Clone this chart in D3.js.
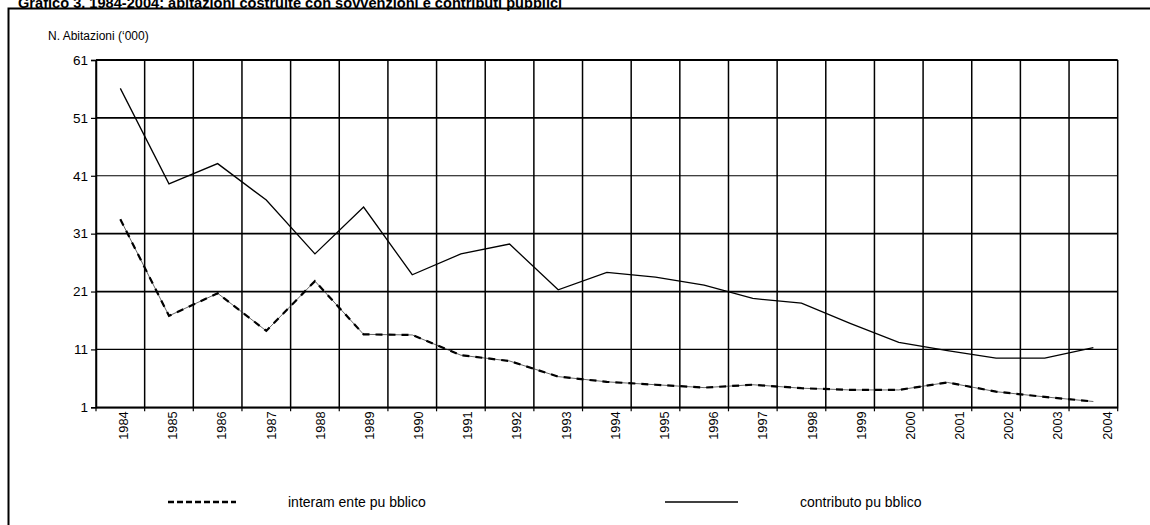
<!DOCTYPE html>
<html>
<head>
<meta charset="utf-8">
<script src="https://cdn.jsdelivr.net/npm/d3@7"></script>
<style>
  html, body { margin: 0; padding: 0; background: #fff; }
  svg { display: block; font-family: "Liberation Sans", Arial, sans-serif; }
</style>
</head>
<body>
<svg id="chart" width="1150" height="525"></svg>
<script>
// Dwellings built with public funding, thousands per year
const years = ["1984","1985","1986","1987","1988","1989","1990","1991","1992","1993",
               "1994","1995","1996","1997","1998","1999","2000","2001","2002","2003","2004"];
const interamentePubblico = [33.5, 16.8, 20.7, 14.2, 22.8, 13.6, 13.5, 10.0, 9.0, 6.3,
                             5.4, 4.9, 4.4, 4.9, 4.3, 4.0, 4.0, 5.3, 3.7, 2.8, 2.0];
const contributoPubblico = [56.1, 39.6, 43.1, 36.8, 27.5, 35.6, 23.9, 27.5, 29.2, 21.3,
                            24.3, 23.5, 22.1, 19.8, 19.0, 15.5, 12.2, 10.8, 9.5, 9.5, 11.3];
const yTicks = [1, 11, 21, 31, 41, 51, 61];
const seriesNames = ["interam ente pu bblico", "contributo pu bblico"];
const titleText = "Grafico 3. 1984-2004: abitazioni costruite con sovvenzioni e contributi pubblici";
const yTitle = "N. Abitazioni (\u2018000)";

const svg = d3.select("#chart");
const plot = { left: 96, right: 1117.7, top: 60, bottom: 407.3 };

const x = d3.scaleBand().domain(years).range([plot.left, plot.right]).padding(0);
const xLabel = d3.scaleBand().domain(years).range([plot.left + 3, plot.right + 14]).padding(0);
const y = d3.scaleLinear().domain([1, 61]).range([plot.bottom, plot.top]);

// title (partly above the page edge)
svg.append("text")
  .attr("x", 18).attr("y", 8)
  .attr("font-size", 14.6).attr("font-weight", "bold")
  .text(titleText);

// outer frame
svg.append("rect")
  .attr("x", 8.5).attr("y", 8.5)
  .attr("width", 1160).attr("height", 540)
  .attr("fill", "none").attr("stroke", "#000").attr("stroke-width", 2);

// y axis title
svg.append("text")
  .attr("x", 48).attr("y", 40)
  .attr("font-size", 12)
  .text(yTitle);

// horizontal gridlines
svg.append("g").selectAll("line")
  .data(yTicks)
  .join("line")
  .attr("x1", plot.left).attr("x2", plot.right)
  .attr("y1", d => y(d)).attr("y2", d => y(d))
  .attr("stroke", "#000")
  .attr("stroke-width", d => (d === 11 || d === 41) ? 1.1 : 1.8);

// vertical gridlines at category boundaries
const bounds = years.map(d => x(d)).concat([x(years[years.length - 1]) + x.bandwidth()]);
svg.append("g").selectAll("line")
  .data(bounds)
  .join("line")
  .attr("x1", d => d).attr("x2", d => d)
  .attr("y1", plot.top).attr("y2", plot.bottom)
  .attr("stroke", "#000").attr("stroke-width", 1.5);

// y axis
const yAxis = svg.append("g")
  .attr("transform", `translate(${plot.left},0)`)
  .call(d3.axisLeft(y).tickValues(yTicks).tickSize(5).tickPadding(3).tickFormat(d3.format("d")));
yAxis.select(".domain").attr("stroke", "#000").attr("stroke-width", 1.5);
yAxis.selectAll(".tick line").attr("stroke", "#000").attr("stroke-width", 1.2);
yAxis.selectAll(".tick text")
  .attr("font-size", 13.5).attr("fill", "#000")
  .attr("font-family", "'Liberation Sans', Arial, sans-serif");

// x axis line and ticks at category boundaries
const xAxis = svg.append("g")
  .attr("transform", `translate(0,${plot.bottom})`)
  .call(d3.axisBottom(x).tickSize(0).tickFormat(""));
xAxis.select(".domain").attr("stroke", "#000").attr("stroke-width", 1.5);
xAxis.selectAll(".tick").remove();
xAxis.selectAll(".btick")
  .data(bounds)
  .join("line")
  .attr("x1", d => d).attr("x2", d => d)
  .attr("y1", 0).attr("y2", 4)
  .attr("stroke", "#000").attr("stroke-width", 1.2);

// rotated year labels
const xLab = svg.append("g")
  .attr("transform", `translate(0,${plot.bottom})`)
  .call(d3.axisBottom(xLabel).tickSize(0));
xLab.select(".domain").remove();
xLab.selectAll(".tick text")
  .attr("transform", "rotate(-90)")
  .attr("text-anchor", "end")
  .attr("x", -4).attr("y", 0).attr("dy", "0.35em")
  .attr("font-size", 12.8).attr("fill", "#000")
  .attr("font-family", "'Liberation Sans', Arial, sans-serif");

// series lines
const line = d3.line()
  .x((d, i) => x(years[i]) + x.bandwidth() / 2)
  .y(d => y(d));

svg.append("path")
  .datum(contributoPubblico)
  .attr("d", line)
  .attr("fill", "none").attr("stroke", "#000").attr("stroke-width", 1.3);

svg.append("path")
  .datum(interamentePubblico)
  .attr("d", line)
  .attr("fill", "none").attr("stroke", "#222").attr("stroke-width", 0.7);
svg.append("path")
  .datum(interamentePubblico)
  .attr("d", line)
  .attr("fill", "none").attr("stroke", "#000").attr("stroke-width", 2.2)
  .attr("stroke-dasharray", "7,6");

// legend
const legend = svg.append("g");
legend.append("line")
  .attr("x1", 168).attr("x2", 236).attr("y1", 502).attr("y2", 502)
  .attr("stroke", "#000").attr("stroke-width", 2.3).attr("stroke-dasharray", "6,3");
legend.append("text")
  .attr("x", 288).attr("y", 506.5).attr("font-size", 14)
  .text(seriesNames[0]);
legend.append("line")
  .attr("x1", 665).attr("x2", 738).attr("y1", 502).attr("y2", 502)
  .attr("stroke", "#000").attr("stroke-width", 1.3);
legend.append("text")
  .attr("x", 800).attr("y", 506.5).attr("font-size", 14)
  .text(seriesNames[1]);
</script>
</body>
</html>
